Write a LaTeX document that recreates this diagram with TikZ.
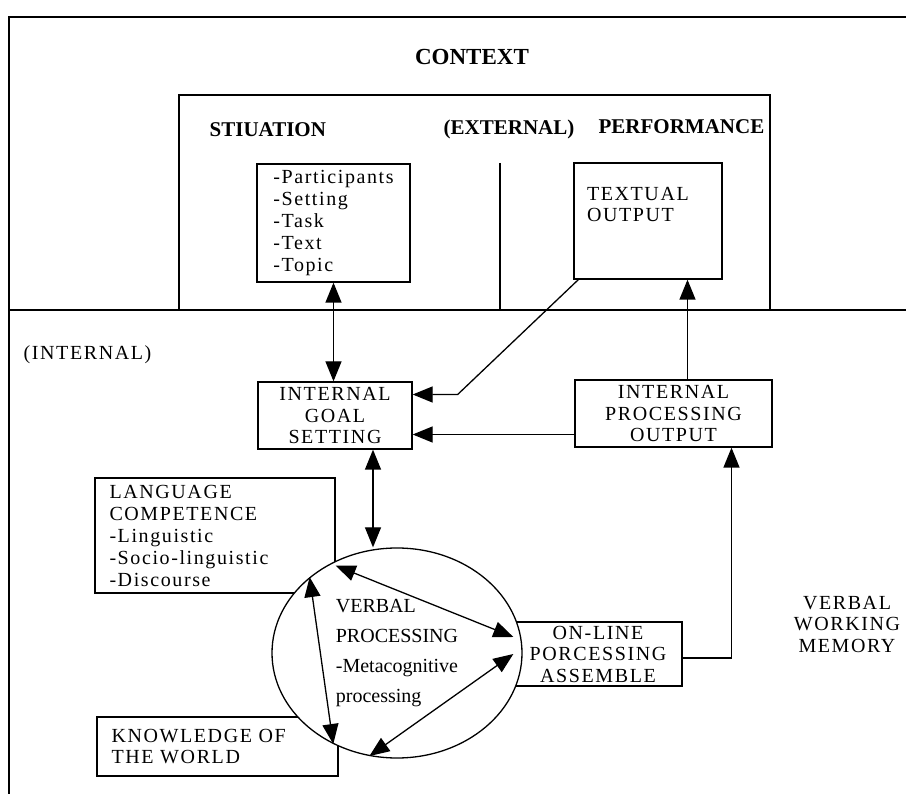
\documentclass[tikz,border=0pt]{standalone}
\usepackage{fontspec}
\setmainfont{Liberation Serif}
\newfontfamily\widefont[LetterSpace=8]{Liberation Serif}
\usetikzlibrary{arrows.meta,shapes.geometric}

\tikzset{
  box/.style={draw, inner sep=0pt, font=\widefont\fontsize{20}{21.5}\selectfont},
  words/.style={inner sep=0pt, font=\widefont\fontsize{20}{21.5}\selectfont},
  head/.style={inner sep=0pt, font=\bfseries\fontsize{21}{25}\selectfont},
  onehead/.style={-{Triangle[length=20pt,width=16pt]}},
  twohead/.style={{Triangle[length=20pt,width=16pt]}-{Triangle[length=20pt,width=16pt]}},
}

\begin{document}
\begin{tikzpicture}[x=1pt, y=-1pt, line width=1.3pt]
    \useasboundingbox (0,0) rectangle (906,794);
    \draw (9,794) -- (9,17) -- (906,17);
    \draw (9,310) -- (906,310);
    \draw (179,310) -- (179,95) -- (770,95) -- (770,310);
    \draw (500,163) -- (500,310);
    \node[head, font=\bfseries\fontsize{23}{27}\selectfont] (context) at (472,57) {CONTEXT};
    \node[head, anchor=west] (situation) at (209,130) {STIUATION};
    \node[head] (external) at (509,129) {(EXTERNAL)};
    \node[head, anchor=west] (performance) at (598,127) {PERFORMANCE};
    \node[words, anchor=west] (internal) at (23,355) {(INTERNAL)};
    \node[words, align=center] (memory) at (847,624) {VERBAL\\WORKING\\MEMORY};
    \node[box, align=left, minimum width=153pt, minimum height=118pt,
        font=\widefont\fontsize{20}{22}\selectfont] (sitbox) at (333.5,223)
        {-Participants\\-Setting\\-Task\\-Text\\-Topic};
    \node[box, minimum width=148pt, minimum height=116pt] (textout) at (648,221)
        {\parbox[c][116pt][t]{122pt}{\vspace*{24pt}TEXTUAL\\OUTPUT}};
    \node[box, align=center, minimum width=154pt, minimum height=67pt] (goal) at (335,415.5)
        {INTERNAL\\GOAL\\SETTING};
    \node[box, align=center, minimum width=197pt, minimum height=67pt] (procout) at (673.5,413.5)
        {INTERNAL\\PROCESSING\\OUTPUT};
    \node[box, align=left, text width=211pt, inner xsep=14.5pt, minimum height=115pt,
        font=\widefont\fontsize{20}{22}\selectfont] (language) at (215,535.5)
        {LANGUAGE\\COMPETENCE\\-Linguistic\\-Socio-linguistic\\-Discourse};
    \node[box, align=left, text width=212pt, inner xsep=14.5pt, minimum height=59pt] (world) at (217.5,746.5)
        {KNOWLEDGE OF\\THE WORLD};
    \node[box, align=center, minimum width=168pt, minimum height=64pt] (online) at (598,654)
        {ON-LINE\\PORCESSING\\ASSEMBLE};
    \node[draw, ellipse, fill=white, inner sep=0pt, minimum width=250pt, minimum height=210pt,
        align=left, font=\fontsize{20}{30}\selectfont] (verbal) at (397,653)
        {VERBAL\\PROCESSING\\-Metacognitive\\processing};
    \draw[twohead] (sitbox.south) -- (sitbox.south |- goal.north);
    \draw[onehead] ([xshift=5pt]textout.south west) -- ([xshift=45pt,yshift=21pt]goal.east) -- ([yshift=21pt]goal.east);
    \draw[onehead] ([yshift=-21pt]procout.west) -- ([yshift=-21pt]procout.west -| goal.east);
    \draw[onehead] ([xshift=14pt]procout.north) -- ([xshift=14pt]procout.north |- textout.south);
    \draw[twohead] ([xshift=38pt]goal.south) -- ([xshift=38pt]goal.south |- verbal.north);
    \draw[onehead] ([yshift=-4pt]online.east) -| ([xshift=58pt]procout.south);
    \draw[twohead] ([yshift=28pt]language.south east) -- ([yshift=17pt]online.west);
    \draw[twohead] (verbal.139) -- (verbal.235);
    \draw[twohead] (verbal.255) -- (online.west);
\end{tikzpicture}
\end{document}
